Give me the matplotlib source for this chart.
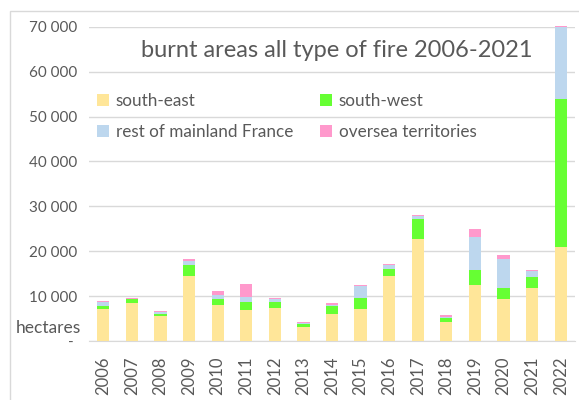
import matplotlib.pyplot as plt
from matplotlib.patches import Rectangle
import numpy as np

plt.rcParams['font.family'] = ['Lato', 'DejaVu Sans']

years = [str(y) for y in range(2006, 2023)]
# stacked values in hectares
south_east = [7060, 8400, 5570, 14550, 7950, 6900, 7350, 3050, 6080, 7200,
              14410, 22720, 4230, 12470, 9350, 11870, 20870]
south_west = [740, 890, 510, 2380, 1470, 1790, 1340, 670, 1780, 2310,
              1690, 4380, 890, 3410, 2520, 2380, 33100]
rest_mainland = [890, 150, 380, 890, 760, 1040, 600, 220, 230, 2670,
                 760, 740, 230, 7280, 6390, 1340, 16030]
overseas = [210, 200, 290, 380, 960, 2900, 350, 360, 370, 220,
            360, 220, 370, 1850, 830, 220, 250]

labels = ['south-east', 'south-west', 'rest of mainland France', 'oversea territories']
colors = ['#FFE699', '#66FF33', '#BDD7EE', '#FF99CC']

fig = plt.figure(figsize=(5.79, 4.0), dpi=100)
ax = fig.add_axes([89 / 579, 1 - 341 / 400, (575 - 89) / 579, (341 - 26.7) / 400])

# outer chart frame
fig.patches.append(Rectangle((10 / 579, -0.1), 1.2, 1 - 11 / 400 + 0.1,
                             transform=fig.transFigure, fill=False,
                             edgecolor='#D9D9D9', linewidth=1))

x = np.arange(len(years))
bottom = np.zeros(len(years))
series = [south_east, south_west, rest_mainland, overseas]
bars = []
for vals, lab, col in zip(series, labels, colors):
    b = ax.bar(x, vals, width=0.43, bottom=bottom, color=col, label=lab,
               clip_on=False, zorder=3)
    bars.append(b)
    bottom += np.array(vals)

ax.set_xlim(-0.5, len(years) - 0.5)
ax.set_ylim(0, 70000)
ticks = np.arange(0, 70001, 10000)
ax.set_yticks(ticks)
ax.set_yticklabels(['- '] + [f'{t:,.0f}'.replace(',', ' ') for t in ticks[1:]])
ax.set_xticks(x)
ax.set_xticklabels(years, rotation=90)
ax.tick_params(axis='both', length=0, labelcolor='#595959', labelsize=11)
ax.tick_params(axis='x', pad=11, labelsize=12)
ax.tick_params(axis='y', pad=8.5)
ax.grid(axis='y', color='#D9D9D9', linewidth=1, zorder=0)
for s in ['top', 'right', 'left']:
    ax.spines[s].set_visible(False)
ax.spines['bottom'].set_color('#D9D9D9')

ax.text(0.51, 0.925, 'burnt areas all type of fire 2006-2021', fontsize=17,
        color='#595959', ha='center', va='center', transform=ax.transAxes)
fig.text(16 / 579, 1 - 328 / 400, 'hectares', fontsize=12.5, color='#595959',
         va='center', ha='left')

# legend filled row by row like the original
order = [0, 2, 1, 3]
ax.legend([bars[i] for i in order], [labels[i] for i in order], ncol=2,
          frameon=False, loc='upper left', bbox_to_anchor=(-0.015, 0.837),
          fontsize=12.3, labelcolor='#595959', handlelength=0.7, handleheight=0.7,
          handletextpad=0.4, columnspacing=1.55, labelspacing=0.85)

fig.savefig('out.png', dpi=100)
